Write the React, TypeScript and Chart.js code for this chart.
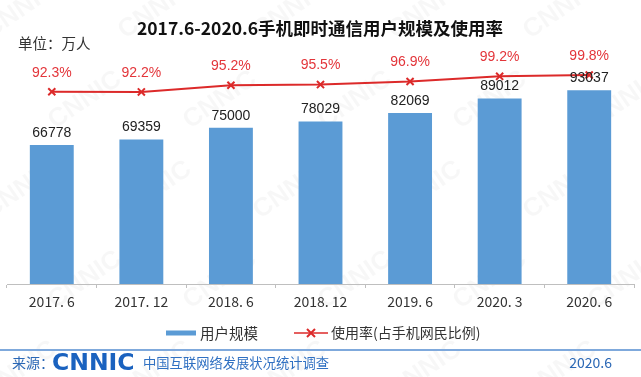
import React, { useEffect, useRef } from 'react';
import { Chart, registerables } from 'chart.js';

Chart.register(...registerables);

const categories = ['2017. 6', '2017. 12', '2018. 6', '2018. 12', '2019. 6', '2020. 3', '2020. 6'];
const users = [66778, 69359, 75000, 78029, 82069, 89012, 93037];
const rates = [92.3, 92.2, 95.2, 95.5, 96.9, 99.2, 99.8];
const seriesNames = ['用户规模', '使用率(占手机网民比例)'];
const titleText = '2017.6-2020.6手机即时通信用户规模及使用率';
const unitText = '单位：万人';
const sourceLabel = '来源：';
const sourceLogo = 'CNNIC';
const sourceName = '中国互联网络发展状况统计调查';
const sourceDate = '2020.6';

const BAR_COLOR = '#5b9bd5';
const LINE_COLOR = '#dc2a2a';
const LABEL_RED = '#e3353a';
const FOOT_BLUE = '#2a67b5';
const CJK = '"Noto Sans CJK SC", "Noto Sans", sans-serif';
const LAT = '"Liberation Sans", Arial, sans-serif';

const W = 641;
const H = 377;

function drawCross(ctx: CanvasRenderingContext2D, x: number, y: number, r: number) {
  ctx.beginPath();
  ctx.moveTo(x - r, y - r);
  ctx.lineTo(x + r, y + r);
  ctx.moveTo(x - r, y + r);
  ctx.lineTo(x + r, y - r);
  ctx.stroke();
}

const decorPlugin = {
  id: 'decor',
  beforeDraw(chart: any) {
    const ctx = chart.ctx as CanvasRenderingContext2D;
    ctx.save();
    ctx.fillStyle = '#ffffff';
    ctx.fillRect(0, 0, W, H);
    // faint watermark
    ctx.fillStyle = 'rgba(0,0,0,0.03)';
    ctx.font = `bold 26px ${LAT}`;
    ctx.textAlign = 'center';
    ctx.textBaseline = 'middle';
    for (let row = 0; row < 5; row++) {
      for (let col = 0; col < 6; col++) {
        const x = col * 135 + (row % 2 ? 65 : 0) + 20;
        const y = row * 90 + 10;
        ctx.save();
        ctx.translate(x, y);
        ctx.rotate(-0.6);
        ctx.fillText('CNNIC', 0, 0);
        ctx.restore();
      }
    }
    ctx.restore();
  },
  afterDatasetsDraw(chart: any) {
    const ctx = chart.ctx as CanvasRenderingContext2D;
    ctx.save();
    ctx.textAlign = 'center';
    ctx.textBaseline = 'middle';
    const barMeta = chart.getDatasetMeta(1);
    ctx.font = `14px ${LAT}`;
    ctx.fillStyle = '#222222';
    barMeta.data.forEach((el: any, i: number) => {
      ctx.fillText(String(users[i]), el.x, el.y - 12);
    });
    const lineMeta = chart.getDatasetMeta(0);
    ctx.fillStyle = LABEL_RED;
    lineMeta.data.forEach((el: any, i: number) => {
      ctx.fillText(rates[i].toFixed(1) + '%', el.x, el.y - 19);
    });
    ctx.restore();
  },
  afterDraw(chart: any) {
    const ctx = chart.ctx as CanvasRenderingContext2D;
    ctx.save();
    // title
    ctx.textBaseline = 'middle';
    ctx.textAlign = 'center';
    ctx.fillStyle = '#111111';
    ctx.font = `bold 17.5px ${CJK}`;
    ctx.fillText(titleText, 320, 28);
    // unit
    ctx.textAlign = 'left';
    ctx.fillStyle = '#333333';
    ctx.font = `14.5px ${CJK}`;
    ctx.fillText(unitText, 18, 43);

    // legend
    const ly = 333;
    ctx.fillStyle = BAR_COLOR;
    ctx.fillRect(166, ly - 2.5, 30, 5);
    ctx.fillStyle = '#333333';
    ctx.font = `14.5px ${CJK}`;
    ctx.fillText(seriesNames[0], 200, ly);
    ctx.strokeStyle = LINE_COLOR;
    ctx.lineWidth = 1.5;
    ctx.beginPath();
    ctx.moveTo(294, ly);
    ctx.lineTo(328, ly);
    ctx.stroke();
    ctx.lineWidth = 2;
    drawCross(ctx, 311, ly, 4);
    ctx.fillStyle = '#333333';
    ctx.font = `14px ${CJK}`;
    ctx.fillText(seriesNames[1], 331, ly);

    // footer line
    ctx.strokeStyle = '#7fa9dc';
    ctx.lineWidth = 2;
    ctx.beginPath();
    ctx.moveTo(0, 350);
    ctx.lineTo(W, 350);
    ctx.stroke();

    // footer texts
    const fy = 363;
    ctx.fillStyle = FOOT_BLUE;
    ctx.font = `14px ${CJK}`;
    ctx.fillText(sourceLabel, 12, fy);
    ctx.fillStyle = '#1a62bf';
    ctx.font = `bold 23.5px "DejaVu Sans", sans-serif`;
    ctx.fillText(sourceLogo, 52, fy + 1);
    ctx.fillStyle = '#2f70c2';
    ctx.font = `13.3px ${CJK}`;
    ctx.fillText(sourceName, 143, fy);
    ctx.textAlign = 'right';
    ctx.fillStyle = FOOT_BLUE;
    ctx.font = `14px ${CJK}`;
    ctx.fillText(sourceDate, 612, fy);
    ctx.restore();
  },
};

export default function App() {
  const ref = useRef<HTMLCanvasElement | null>(null);
  useEffect(() => {
    if (!ref.current) return;
    const chart = new Chart(ref.current, {
      type: 'bar',
      data: {
        labels: categories,
        datasets: [
          {
            type: 'line',
            label: seriesNames[1],
            data: rates,
            yAxisID: 'y1',
            borderColor: LINE_COLOR,
            backgroundColor: LINE_COLOR,
            borderWidth: 2,
            pointStyle: 'crossRot',
            pointRadius: 5,
            pointBorderWidth: 2,
            pointBorderColor: LINE_COLOR,
            tension: 0,
            order: 0,
          } as any,
          {
            type: 'bar',
            label: seriesNames[0],
            data: users,
            yAxisID: 'y',
            backgroundColor: BAR_COLOR,
            borderWidth: 0,
            barPercentage: 0.49,
            categoryPercentage: 1,
            order: 1,
          } as any,
        ],
      },
      options: {
        responsive: false,
        animation: false,
        layout: { padding: { left: 5, right: 4, top: 34, bottom: 68 } },
        plugins: {
          legend: { display: false },
          title: { display: false },
          tooltip: { enabled: false },
        },
        scales: {
          x: {
            grid: {
              display: true,
              drawOnChartArea: false,
              drawTicks: true,
              tickLength: 4,
              color: '#bfbfbf',
              offset: true,
            },
            border: { display: true, color: '#bfbfbf', width: 1 },
            ticks: {
              color: '#333333',
              font: { size: 14, family: CJK },
              padding: 5,
              maxRotation: 0,
              autoSkip: false,
            },
            afterFit(scale: any) {
              scale.height = 25;
            },
          },
          y: {
            display: false,
            min: 0,
            max: 120000,
          },
          y1: {
            display: false,
            min: 6,
            max: 118.2,
          },
        },
      },
      plugins: [decorPlugin],
    });
    return () => chart.destroy();
  }, []);
  return (
    <div style={{ position: 'absolute', left: 0, top: 0, width: W, height: H }}>
      <canvas ref={ref} width={W} height={H} style={{ width: W, height: H, display: 'block' }} />
    </div>
  );
}
